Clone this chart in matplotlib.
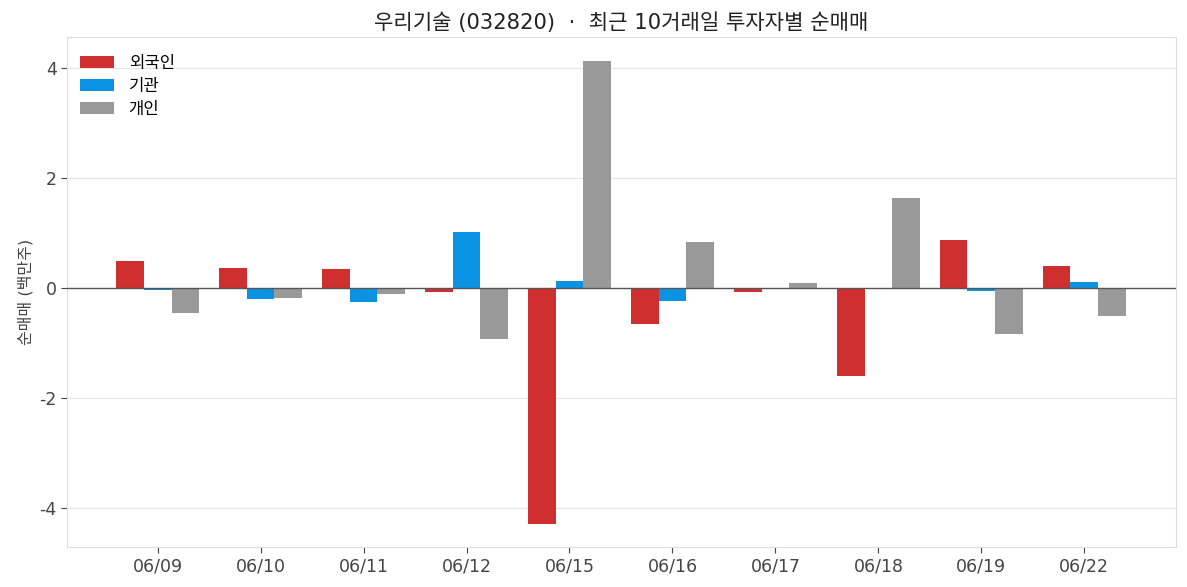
import matplotlib
matplotlib.use("Agg")
import matplotlib.pyplot as plt
import numpy as np

plt.rcParams['font.family'] = ['DejaVu Sans', 'Noto Sans CJK KR']
plt.rcParams['axes.unicode_minus'] = False

dates = ["06/09", "06/10", "06/11", "06/12", "06/15", "06/16", "06/17", "06/18", "06/19", "06/22"]
foreign = [0.49, 0.36, 0.35, -0.07, -4.29, -0.65, -0.08, -1.61, 0.87, 0.40]
institution = [-0.03, -0.20, -0.25, 1.02, 0.13, -0.23, 0.0, 0.0, -0.05, 0.11]
individual = [-0.45, -0.18, -0.11, -0.93, 4.13, 0.84, 0.09, 1.64, -0.83, -0.52]
series_names = ["외국인", "기관", "개인"]
colors = ["#D02F2F", "#0A93E3", "#999999"]

fig = plt.figure(figsize=(11.87, 5.87), dpi=100)
ax = fig.add_axes([67/1187, 1-547/587, (1176-67)/1187, (547-37)/587])

x = np.arange(len(dates))
w = 0.27
for i, (vals, name, c) in enumerate(zip([foreign, institution, individual], series_names, colors)):
    ax.bar(x + (i-1)*w, vals, width=w, color=c, label=name, zorder=3)

ax.axhline(0, color="#555555", linewidth=1.0, zorder=4)
ax.set_xlim(-0.88, 9.89)
ax.set_ylim(-4.71, 4.56)
ax.set_yticks([-4, -2, 0, 2, 4])
ax.set_yticklabels(["-4", "-2", "0", "2", "4"])
ax.set_xticks(x)
ax.set_xticklabels(dates)
ax.grid(axis='y', color="#e6e6e6", linewidth=0.8, zorder=0)
for s in ax.spines.values():
    s.set_color("#dddddd")
ax.tick_params(axis='both', colors="#444444", labelsize=12.5, length=4)
for t in ax.get_xticklabels() + ax.get_yticklabels():
    t.set_color("#444444")
ax.set_ylabel("순매매 (백만주)", fontsize=11.5, color="#444444")
ax.set_title("우리기술 (032820)  ·  최근 10거래일 투자자별 순매매", fontsize=15.2, color="#222222", pad=6)
leg = ax.legend(loc="upper left", frameon=False, fontsize=12, handlelength=2.0, handleheight=0.75,
                handletextpad=0.9, borderaxespad=0.4, labelspacing=0.3, bbox_to_anchor=(0.0, 0.993))

fig.savefig("out.png", dpi=100)
